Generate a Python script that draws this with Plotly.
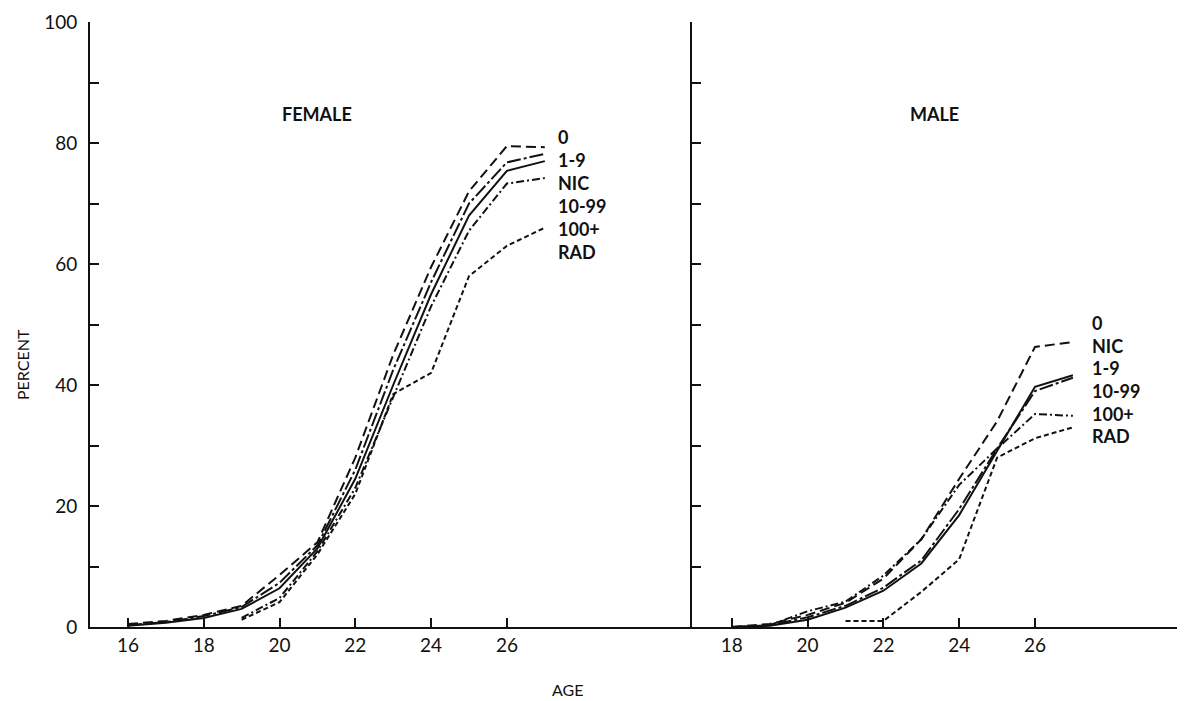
import plotly.graph_objects as go

# ---------------- data ----------------
groups_f = ["0", "1-9", "NIC", "10-99", "100+"]
groups_m = ["0", "NIC", "1-9", "10-99", "100+"]
ages_f = [16, 17, 18, 19, 20, 21, 22, 23, 24, 25, 26, 27]
female = {
    "0":     [0.5, 1.0, 2.0, 3.5, 8.6, 14.0, 28.0, 45.0, 59.5, 72.0, 79.5, 79.3],
    "1-9":   [0.3, 0.8, 1.8, 3.3, 7.3, 13.5, 26.0, 42.5, 57.0, 70.0, 76.8, 78.2],
    "NIC":   [0.2, 0.7, 1.5, 3.0, 6.4, 13.0, 24.5, 40.0, 55.0, 68.0, 75.4, 77.0],
    "10-99": [None, None, None, 1.5, 4.8, 12.5, 23.0, 38.0, 53.0, 65.5, 73.3, 74.2],
    "100+":  [None, None, None, 1.2, 4.1, 12.0, 22.0, 38.5, 42.0, 58.0, 63.0, 66.0],
}
ages_m = [18, 19, 20, 21, 22, 23, 24, 25, 26, 27]
male = {
    "0":     [0.0, 0.5, 2.0, 4.0, 8.0, 14.5, 24.5, 34.0, 46.3, 47.1],
    "NIC":   [0.0, 0.2, 1.2, 3.2, 6.0, 10.5, 18.5, 29.0, 39.7, 41.6],
    "1-9":   [0.0, 0.3, 1.6, 3.5, 6.5, 11.0, 19.5, 29.5, 39.0, 41.2],
    "10-99": [None, 0.3, 2.6, 4.2, 8.5, 14.5, 23.5, 29.5, 35.2, 34.9],
    "100+":  [None, None, None, 1.0, 1.0, 5.8, 11.2, 28.0, 31.2, 33.0],
}
female_labels = ["0", "1-9", "NIC", "10-99", "100+", "RAD"]
male_labels = ["0", "NIC", "1-9", "10-99", "100+", "RAD"]
y_ticks = [0, 10, 20, 30, 40, 50, 60, 70, 80, 90, 100]
y_ticktext = ["0", "", "20", "", "40", "", "60", "", "80", "", "100"]
x_ticks_f = [16, 18, 20, 22, 24, 26]
x_ticks_m = [18, 20, 22, 24, 26]

# ---------------- styles ----------------
dash_style = {
    "0": "10px,5px",
    "1-9": "14px,3px,3px,3px",
    "NIC": "solid",
    "10-99": "8px,3px,2px,3px",
    "100+": "5px,3px",
}
INK = "#111111"
FONT = "Lato, 'Noto Sans', sans-serif"

fig = go.Figure()
for g in groups_f:
    fig.add_trace(go.Scatter(x=ages_f, y=female[g], mode="lines", xaxis="x", yaxis="y",
                             line=dict(color=INK, width=2, dash=dash_style[g]),
                             connectgaps=False, showlegend=False, hoverinfo="skip"))
for g in groups_m:
    fig.add_trace(go.Scatter(x=ages_m, y=male[g], mode="lines", xaxis="x2", yaxis="y2",
                             line=dict(color=INK, width=2, dash=dash_style[g]),
                             connectgaps=False, showlegend=False, hoverinfo="skip"))

split = 602 / 1095
axis_common = dict(showline=True, linecolor=INK, linewidth=2, ticks="inside",
                   tickcolor=INK, tickwidth=2, ticklen=9, showgrid=False, zeroline=False,
                   tickfont=dict(family=FONT, size=19, color=INK))

# page body has an 8px margin: figure is 1177x693 placed at (8,8)
fig.update_layout(
    width=1177, height=693,
    margin=dict(l=82, r=0, t=14, b=74),
    paper_bgcolor="white", plot_bgcolor="white",
    xaxis=dict(domain=[0, split], range=[15, 15 + 602 / 37.9], tickvals=x_ticks_f,
               anchor="y", **axis_common),
    yaxis=dict(domain=[0, 1], range=[0, 100], tickvals=y_ticks, ticktext=y_ticktext,
               anchor="x", ticklabelstandoff=7, **axis_common),
    xaxis2=dict(domain=[split, 1], range=[16.95, 16.95 + 493 / 37.9], tickvals=x_ticks_m,
                anchor="y2", **axis_common),
    yaxis2=dict(domain=[0, 1], range=[0, 100], tickvals=y_ticks, showticklabels=False,
                anchor="x2", **axis_common),
)

ann = []
label_font = dict(family=FONT, size=18, color=INK, weight="bold")
for i, t in enumerate(female_labels):
    ann.append(dict(x=27.3, y=81.0, xref="x", yref="y", text=t, showarrow=False,
                    xanchor="left", yanchor="middle", yshift=-23 * i, font=label_font))
for i, t in enumerate(male_labels):
    ann.append(dict(x=27.45, y=50.2, xref="x2", yref="y2", text=t, showarrow=False,
                    xanchor="left", yanchor="middle", yshift=-22.6 * i, font=label_font))
ann.append(dict(x=20.0, y=84.8, xref="x", yref="y", text="FEMALE", showarrow=False,
                xanchor="left", yanchor="middle", font=label_font))
ann.append(dict(x=22.66, y=84.8, xref="x2", yref="y2", text="MALE", showarrow=False,
                xanchor="left", yanchor="middle", font=label_font))


def plot_frac(px, py):
    # window pixel -> fraction of plot area (plot area spans x 90..1185, y 22..627)
    return (px - 90) / 1095, (627 - py) / 605


fx, fy = plot_frac(22, 365)
ann.append(dict(x=fx, y=fy, xref="paper", yref="paper", text="PERCENT",
                showarrow=False, textangle=-90, xanchor="center", yanchor="middle",
                font=dict(family=FONT, size=16, color=INK)))
fx, fy = plot_frac(567, 689)
ann.append(dict(x=fx, y=fy, xref="paper", yref="paper", text="AGE",
                showarrow=False, xanchor="center", yanchor="middle",
                font=dict(family=FONT, size=16, color=INK)))
fig.update_layout(annotations=ann)

fig.write_html("out.html")
